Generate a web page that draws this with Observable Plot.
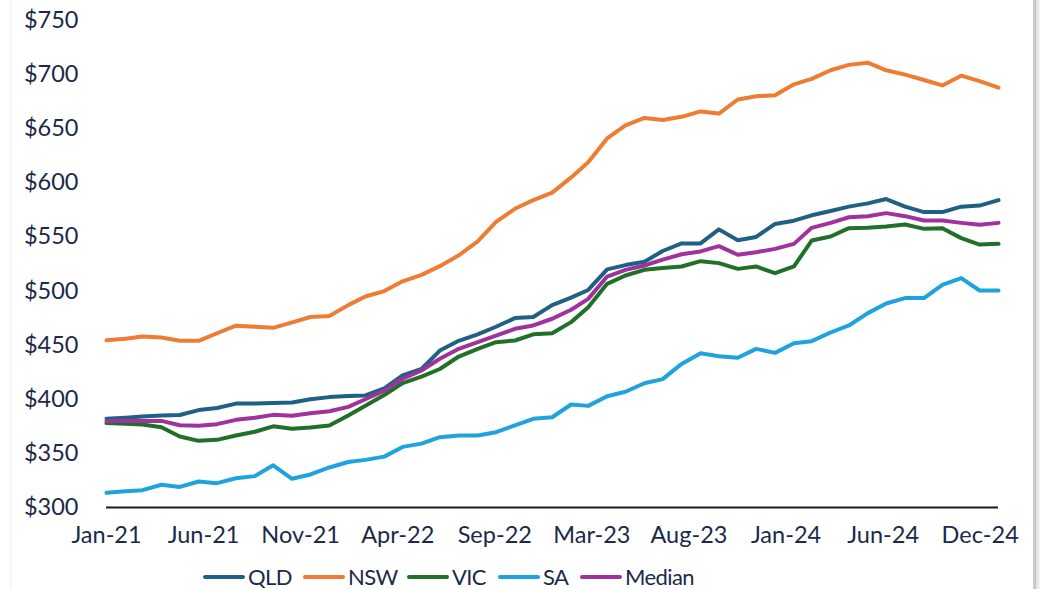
<!DOCTYPE html>
<html><head><meta charset="utf-8">
<script src="https://cdn.jsdelivr.net/npm/d3@7"></script>
<script src="https://cdn.jsdelivr.net/npm/@observablehq/plot@0.6"></script>
<style>
body{margin:0;background:#fff;font-family:Lato,sans-serif;}
#wrap{position:relative;width:1040px;height:589px;overflow:hidden;background:#fff;}
#frame{position:absolute;left:10px;top:-20px;width:1022px;height:640px;border-left:1px solid #f2f2f2;border-right:3px solid #c9c9c9;box-shadow:3px 0 3px #e2e2e2;}
#chart{position:absolute;left:0;top:0;}
#legend{position:absolute;left:203px;top:564px;height:26px;display:flex;align-items:center;font-family:Lato,sans-serif;font-size:22px;line-height:26px;color:#1b2a48;letter-spacing:-0.6px;}
.item{display:flex;align-items:center;white-space:nowrap;}
.sw{width:42px;height:4px;border-radius:2px;margin-right:3px;flex:none;}
</style></head>
<body><div id="wrap"><div id="frame"></div><div id="chart"></div><div id="legend"></div></div>
<script>
const months = ["Jan-21","Feb-21","Mar-21","Apr-21","May-21","Jun-21","Jul-21","Aug-21","Sep-21","Oct-21","Nov-21","Dec-21",
"Jan-22","Feb-22","Mar-22","Apr-22","May-22","Jun-22","Jul-22","Aug-22","Sep-22","Oct-22","Nov-22","Dec-22",
"Jan-23","Feb-23","Mar-23","Apr-23","May-23","Jun-23","Jul-23","Aug-23","Sep-23","Oct-23","Nov-23","Dec-23",
"Jan-24","Feb-24","Mar-24","Apr-24","May-24","Jun-24","Jul-24","Aug-24","Sep-24","Oct-24","Nov-24","Dec-24","Jan-25"];
const QLD = [382,383,384,385,385.5,390,392,396,396,396.5,397,400,402,403,403.5,410,422,428,445,454,460,467,475,476,487,494,501,520,524,527,537,544,544,557,547,550,562,565,570,574,578,581,585,578,573,573,578,579,584];
const NSW = [454.5,456,458,457,454,454,461,468,467,466,471,476,477,487,495,500,509,515,523,533,546,564,576,584,591,605,619,641,653,660,658,661,666,664,677,680,681,691,696,704,709,711,704,700,695,690,699,694,688];
const VIC = [378,377.5,376.7,374.2,365.6,361.6,362.5,366.5,370,375,372.7,374,375.8,385,394,404,415,421,428,439.5,446.6,452.8,454.3,460,461,471.3,485,506.7,514.4,519.6,521.3,522.7,527.6,525.8,520.5,522.7,516.5,522.7,546.7,550.4,558.1,558.4,559.7,561.5,557.5,558.1,548.9,543,543.6];
const SA = [313.6,315,316,321,319,324,322.5,327,329,339,326.5,330.5,337,342,344,347,356,359,365,366.5,366.5,369.6,375.8,381.9,383.4,395.2,393.9,402.8,407,414.8,418.6,432.7,442.6,439.8,438.3,446.6,442.9,451.8,453.7,461.7,468.2,479.6,488.5,493.5,493.5,505.8,512,500.5,500.5];
const Median = [380,380,380,380,376,375.5,377,381,383,385.6,384.7,387,389,393,400,408,419,426.6,437.4,446.6,452.8,458.9,465.1,468.2,474.4,482.7,492.8,513.4,519.6,523.6,529,534,536.6,541.5,533.5,535.9,539,543.6,558.4,563,568.2,569.2,572,569.2,565.2,565.2,563,561.2,563];
const seriesNames = ["QLD","NSW","VIC","SA","Median"];
const seriesColors = ["#1f6083","#ee7d33","#217029","#1ea3dc","#a0329e"];
const yTicks = [300,350,400,450,500,550,600,650,700,750];
const xTickDates = ["2021-01-01","2021-06-09","2021-11-15","2022-04-23","2022-09-29","2023-03-07","2023-08-13","2024-01-19","2024-06-26","2024-12-02"];

const parse = d3.utcParse("%b-%y");
const dates = months.map(parse);
const valuesBy = {QLD, NSW, VIC, SA, Median};
const rows = [];
seriesNames.forEach(s => valuesBy[s].forEach((v, i) => rows.push({series: s, date: dates[i], value: v})));

const chart = Plot.plot({
  width: 1040, height: 555,
  marginTop: 20, marginBottom: 48, marginLeft: 106, marginRight: 42,
  style: {fontFamily: "Lato, sans-serif", fontSize: "23.5px", color: "#1b2a48", background: "transparent"},
  x: {type: "utc", domain: [dates[0], dates[dates.length - 1]]},
  y: {domain: [300, 750]},
  color: {domain: seriesNames, range: seriesColors},
  marks: [
    Plot.axisY({ticks: yTicks, tickSize: 0, tickPadding: 28, tickFormat: d => "$" + d, label: null}),
    Plot.axisX({ticks: xTickDates.map(d => new Date(d)), tickSize: 0, tickPadding: 19, tickFormat: d3.utcFormat("%b-%y"), label: null}),
    Plot.ruleY([300], {stroke: "#1a1a1a", strokeWidth: 2}),
    Plot.lineY(rows, {x: "date", y: "value", z: "series", stroke: "series", strokeWidth: 4, strokeLinejoin: "round", strokeLinecap: "round"})
  ]
});
document.getElementById("chart").appendChild(chart);

const legend = document.getElementById("legend");
const itemWidths = [100, 104, 91, 82, null];
seriesNames.forEach((s, i) => {
  const it = document.createElement("div"); it.className = "item";
  if (itemWidths[i]) it.style.width = itemWidths[i] + "px";
  const sw = document.createElement("div"); sw.className = "sw"; sw.style.background = seriesColors[i];
  const tx = document.createElement("span"); tx.textContent = s;
  it.appendChild(sw); it.appendChild(tx); legend.appendChild(it);
});
</script></body></html>
